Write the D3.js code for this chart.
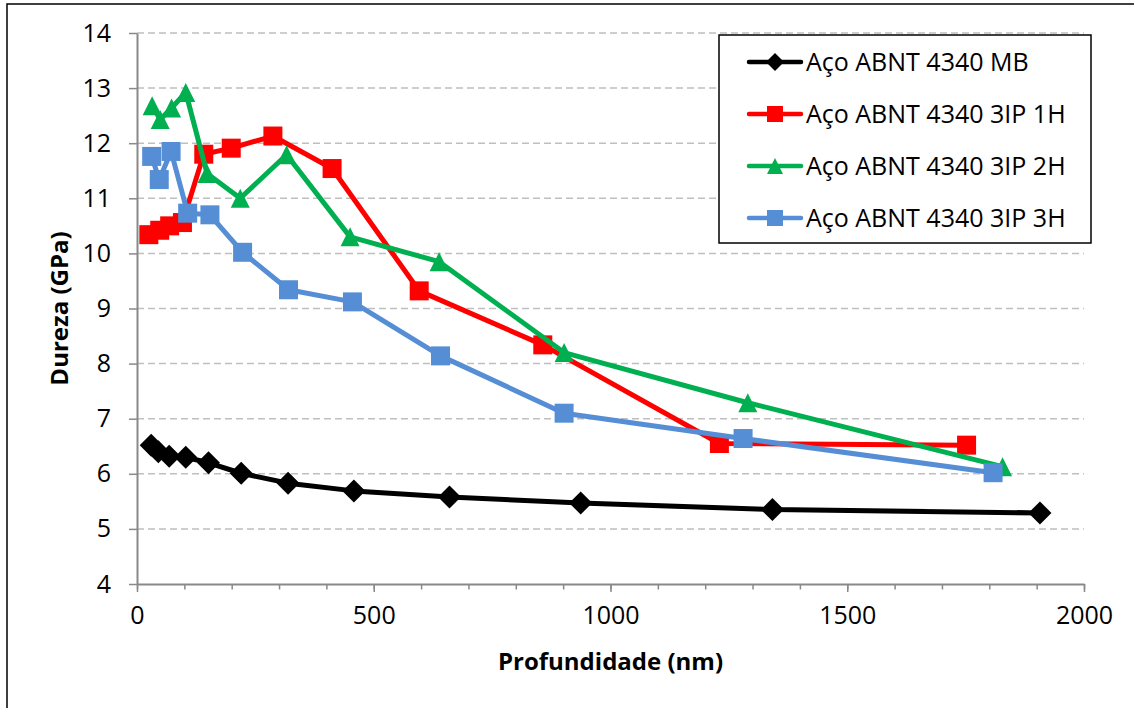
<!DOCTYPE html>
<html>
<head>
<meta charset="utf-8">
<script src="https://cdn.jsdelivr.net/npm/d3@7"></script>
<style>
  body { margin: 0; background: #fff; }
  text { font-family: "Open Sans", sans-serif; }
</style>
</head>
<body>
<div id="chart"></div>
<script>
// data
const seriesNames = ["Aço ABNT 4340 MB", "Aço ABNT 4340 3IP 1H", "Aço ABNT 4340 3IP 2H", "Aço ABNT 4340 3IP 3H"];

const depthMB = [30, 45, 68, 103, 151, 220, 319, 458, 660, 937, 1342, 1907];
const hardMB  = [6.52, 6.40, 6.32, 6.30, 6.20, 6.01, 5.83, 5.69, 5.58, 5.47, 5.35, 5.29];

const depth1H = [25, 48, 69, 96, 141, 199, 287, 412, 596, 857, 1230, 1752];
const hard1H  = [10.34, 10.42, 10.50, 10.56, 11.80, 11.91, 12.13, 11.54, 9.32, 8.34, 6.55, 6.52];

const depth2H = [32, 49, 73, 103, 148, 218, 316, 450, 638, 902, 1290, 1828];
const hard2H  = [12.68, 12.43, 12.64, 12.92, 11.45, 11.00, 11.79, 10.30, 9.85, 8.20, 7.29, 6.13];

const depth3H = [31, 47, 72, 107, 154, 223, 320, 455, 641, 902, 1280, 1808];
const hard3H  = [11.76, 11.34, 11.85, 10.73, 10.70, 10.02, 9.34, 9.12, 8.14, 7.10, 6.64, 6.02];

const xTicks = [0, 500, 1000, 1500, 2000];
const yTicks = [4, 5, 6, 7, 8, 9, 10, 11, 12, 13, 14];

const colors = ["#000000", "#ff0000", "#00b050", "#558ed5"];
const shapes = ["diamond", "square", "triangle", "square"];

const series = [
  { name: seriesNames[0], x: depthMB, y: hardMB },
  { name: seriesNames[1], x: depth1H, y: hard1H },
  { name: seriesNames[2], x: depth2H, y: hard2H },
  { name: seriesNames[3], x: depth3H, y: hard3H }
];

const width = 1134, height = 708,
    margin = ({ top: 33, right: 50, bottom: 124, left: 137 });

const svg = d3.select("#chart")
    .append("svg")
    .attr("width", width)
    .attr("height", height);

// outer frame
svg.append("rect")
    .attr("x", 7).attr("y", 4)
    .attr("width", width + 20).attr("height", height + 20)
    .attr("fill", "none")
    .attr("stroke", "#000")
    .attr("stroke-width", 1.5);

const x = d3.scaleLinear()
    .domain([0, 2000])
    .range([margin.left, width - margin.right]);

const y = d3.scaleLinear()
    .domain([4, 14])
    .range([height - margin.bottom, margin.top]);

// gridlines
svg.append("g")
    .selectAll("line")
    .data(yTicks.slice(1))
    .join("line")
    .attr("x1", x(0)).attr("x2", x(2000))
    .attr("y1", d => y(d)).attr("y2", d => y(d))
    .attr("stroke", "#bfbfbf")
    .attr("stroke-width", 1.5)
    .attr("stroke-dasharray", "7,4");

// axes
const axisColor = "#898989";

svg.append("g")
    .attr("transform", `translate(0,${y(4)})`)
    .call(d3.axisBottom(x).tickValues(d3.range(0, 2001, 100)).tickSize(5.5).tickFormat("").tickSizeOuter(0))
    .call(g => g.selectAll("line").attr("stroke", axisColor).attr("stroke-width", 1.5))
    .call(g => g.select(".domain").remove());

svg.append("g")
    .attr("transform", `translate(0,${y(4)})`)
    .call(d3.axisBottom(x).tickValues(xTicks).tickFormat(d3.format("d")).tickSize(8).tickPadding(14).tickSizeOuter(0))
    .call(g => g.select(".domain").attr("stroke", axisColor).attr("stroke-width", 2))
    .call(g => g.selectAll("line").attr("stroke", axisColor).attr("stroke-width", 1.5))
    .call(g => g.selectAll("text").attr("font-size", 25).attr("fill", "#000")
        .attr("font-family", "'Open Sans', sans-serif"));

svg.append("g")
    .attr("transform", `translate(${x(0)},0)`)
    .call(d3.axisLeft(y).tickValues(yTicks).tickFormat(d3.format("d")).tickSize(8).tickPadding(18).tickSizeOuter(0))
    .call(g => g.select(".domain").attr("stroke", axisColor).attr("stroke-width", 2))
    .call(g => g.selectAll("line").attr("stroke", axisColor).attr("stroke-width", 1.5))
    .call(g => g.selectAll("text").attr("font-size", 25).attr("fill", "#000")
        .attr("font-family", "'Open Sans', sans-serif"));

// axis titles
svg.append("text")
    .text("Profundidade (nm)")
    .attr("x", (x(0) + x(2000)) / 2)
    .attr("y", 670)
    .attr("text-anchor", "middle")
    .attr("font-size", 24)
    .attr("font-weight", "bold");

svg.append("text")
    .text("Dureza (GPa)")
    .attr("transform", `translate(68,${(y(4) + y(14)) / 2}) rotate(-90)`)
    .attr("text-anchor", "middle")
    .attr("font-size", 24)
    .attr("font-weight", "bold");

function marker(shape, s) {
  const h = s / 2;
  if (shape === "square") return `M${-h},${-h}H${h}V${h}H${-h}Z`;
  if (shape === "diamond") return `M0,${-h}L${h},0L0,${h}L${-h},0Z`;
  return `M0,${-h}L${h},${h}L${-h},${h}Z`;
}

const line = d3.line()
    .x(d => x(d[0]))
    .y(d => y(d[1]));

series.forEach((s, i) => {
  const pts = s.x.map((v, j) => [v, s.y[j]]);
  const g = svg.append("g");
  g.append("path")
      .datum(pts)
      .attr("d", line)
      .attr("fill", "none")
      .attr("stroke", colors[i])
      .attr("stroke-width", 5)
      .attr("stroke-linejoin", "round");
  g.selectAll(".pt")
      .data(pts)
      .join("path")
      .attr("class", "pt")
      .attr("d", marker(shapes[i], shapes[i] === "diamond" ? 23 : 19))
      .attr("transform", d => `translate(${x(d[0])},${y(d[1])})`)
      .attr("fill", colors[i]);
});

// legend
const legend = svg.append("g");
legend.append("rect")
    .attr("x", 719).attr("y", 35)
    .attr("width", 372).attr("height", 208)
    .attr("fill", "#fff")
    .attr("stroke", "#000")
    .attr("stroke-width", 1.5);

const item = legend.selectAll(".item")
    .data(seriesNames)
    .join("g")
    .attr("class", "item")
    .attr("transform", (d, i) => `translate(0,${62 + i * 52})`);

item.append("line")
    .attr("x1", 749).attr("x2", 801)
    .attr("stroke", (d, i) => colors[i])
    .attr("stroke-width", 4.5)
    .attr("stroke-linecap", "round");

item.append("path")
    .attr("d", (d, i) => marker(shapes[i], i === 0 ? 18 : 16))
    .attr("transform", "translate(775,0)")
    .attr("fill", (d, i) => colors[i]);

item.append("text")
    .text(d => d)
    .attr("x", 806)
    .attr("dy", "0.35em")
    .attr("font-size", 25);
</script>
</body>
</html>
